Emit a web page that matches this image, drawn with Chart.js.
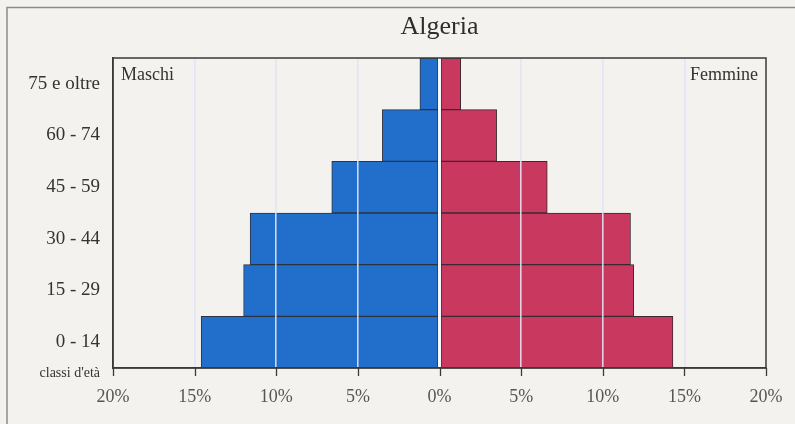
<!DOCTYPE html>
<html>
<head>
<meta charset="utf-8">
<script src="https://cdn.jsdelivr.net/npm/chart.js@4.4.1/dist/chart.umd.min.js"></script>
<style>
  html, body { margin: 0; padding: 0; background: #f3f2ee; }
  #wrap { width: 795px; height: 424px; position: relative; }
</style>
</head>
<body>
<div id="wrap"><canvas id="c" width="795" height="424"></canvas></div>
<script>
const categories = ['75 e oltre', '60 - 74', '45 - 59', '30 - 44', '15 - 29', '0 - 14'];
const maschi = [1.2, 3.5, 6.6, 11.6, 12.0, 14.6];
const femmine = [1.3, 3.5, 6.6, 11.7, 11.9, 14.3];
const xTicks = [-20, -15, -10, -5, 0, 5, 10, 15, 20];
const titleText = 'Algeria';
const leftLabel = 'Maschi';
const rightLabel = 'Femmine';
const axisNote = "classi d'età";

const SERIF = '"Liberation Serif", "DejaVu Serif", serif';

const decor = {
  id: 'decor',
  beforeDraw(chart) {
    const ctx = chart.ctx;
    ctx.save();
    ctx.fillStyle = '#f3f2ee';
    ctx.fillRect(0, 0, chart.width, chart.height);
    ctx.strokeStyle = '#8c8c8c';
    ctx.lineWidth = 1.5;
    ctx.beginPath();
    ctx.moveTo(7, chart.height);
    ctx.lineTo(7, 7.5);
    ctx.lineTo(chart.width, 7.5);
    ctx.stroke();
    ctx.restore();
  },
  afterDraw(chart) {
    const ctx = chart.ctx;
    const a = chart.chartArea;
    const xs = chart.scales.x;
    ctx.save();
    ctx.strokeStyle = '#3a3a3a';
    ctx.lineWidth = 1.5;
    ctx.strokeRect(a.left, a.top, a.right - a.left, a.bottom - a.top);
    ctx.lineWidth = 1.3;
    ctx.beginPath();
    xTicks.forEach(v => {
      const px = Math.round(xs.getPixelForValue(v)) + 0.5;
      ctx.moveTo(px, a.bottom);
      ctx.lineTo(px, a.bottom + 8);
    });
    ctx.stroke();
    ctx.fillStyle = '#333';
    ctx.font = '18px ' + SERIF;
    ctx.textBaseline = 'alphabetic';
    ctx.textAlign = 'left';
    ctx.fillText(leftLabel, a.left + 8, a.top + 22);
    ctx.textAlign = 'right';
    ctx.fillText(rightLabel, a.right - 8, a.top + 22);
    ctx.font = '14px ' + SERIF;
    ctx.fillText(axisNote, a.left - 13, a.bottom + 9);
    ctx.restore();
  }
};

new Chart(document.getElementById('c'), {
  type: 'bar',
  data: {
    labels: categories,
    datasets: [
      {
        label: leftLabel,
        data: maschi.map(v => -v),
        backgroundColor: '#226fcb',
        borderColor: '#2d3340',
        borderWidth: 1,
        borderSkipped: false,
        categoryPercentage: 1,
        barPercentage: 1
      },
      {
        label: rightLabel,
        data: femmine,
        backgroundColor: '#c9385f',
        borderColor: '#3a2a30',
        borderWidth: 1,
        borderSkipped: false,
        categoryPercentage: 1,
        barPercentage: 1
      }
    ]
  },
  options: {
    indexAxis: 'y',
    responsive: false,
    animation: false,
    layout: { padding: { left: 0, right: 29, top: 0, bottom: 0 } },
    plugins: {
      legend: { display: false },
      tooltip: { enabled: false },
      title: {
        display: true,
        text: titleText,
        fullSize: false,
        color: '#2e2e2e',
        font: { family: SERIF, size: 26, weight: 'normal', lineHeight: 1.2 },
        padding: { top: 12, bottom: 14.8 }
      }
    },
    scales: {
      x: {
        stacked: true,
        min: -20,
        max: 20,
        z: 1,
        afterBuildTicks(scale) { scale.ticks = xTicks.map(v => ({ value: v })); },
        afterFit(scale) { scale.height = 56; },
        ticks: {
          color: '#555',
          font: { family: SERIF, size: 18 },
          padding: 10,
          maxRotation: 0,
          callback: v => Math.abs(v) + '%'
        },
        grid: {
          z: 1,
          drawOnChartArea: true,
          drawTicks: true,
          tickLength: 8,
          tickColor: 'rgba(0,0,0,0)',
          color: ctx => {
            const v = ctx.tick ? ctx.tick.value : 0;
            if (Math.abs(v) === 20) return 'rgba(0,0,0,0)';
            if (v === 0) return 'rgba(248,248,255,0.95)';
            return 'rgba(226,226,246,0.9)';
          },
          lineWidth: ctx => (ctx.tick && ctx.tick.value === 0 ? 3 : 1.6)
        },
        border: { display: true, color: '#3a3a3a', width: 1.5, z: 1 }
      },
      y: {
        stacked: true,
        afterFit(scale) { scale.width = 113; },
        ticks: {
          color: '#333',
          font: { family: SERIF, size: 19 },
          padding: 13
        },
        grid: { display: false, drawTicks: false },
        border: { display: true, color: '#3a3a3a', width: 1.5 }
      }
    }
  },
  plugins: [decor]
});
</script>
</body>
</html>
